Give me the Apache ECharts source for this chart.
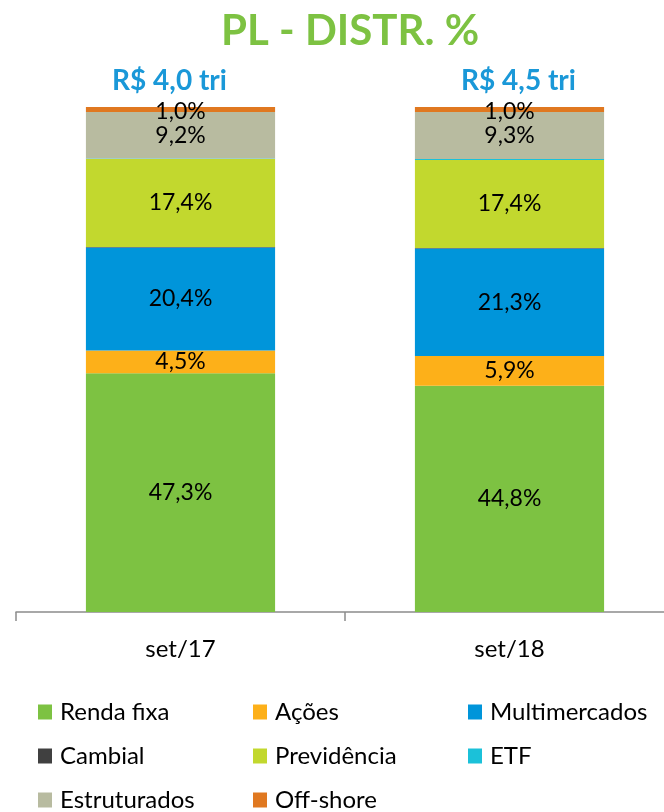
<!DOCTYPE html>
<html>
<head>
<meta charset="utf-8">
<script src="https://cdn.jsdelivr.net/npm/echarts@6/dist/echarts.min.js"></script>
<style>
  html,body{margin:0;padding:0;background:#fff;overflow:hidden;}
  #box{width:674px;height:812px;}
</style>
</head>
<body>
<div id="box"></div>
<script>
// dados do grafico
var categorias = ['set/17', 'set/18'];
var totais = ['R$ 4,0 tri', 'R$ 4,5 tri'];
var rendaFixa = [47.3, 44.8];
var acoes = [4.5, 5.9];
var multimercados = [20.4, 21.3];
var cambial = [0.1, 0.1];
var previdencia = [17.4, 17.4];
var etf = [0.1, 0.2];
var estruturados = [9.2, 9.3];
var offShore = [1.0, 1.0];

var fonte = 'Lato, "Open Sans", sans-serif';

function pct(p){
  return p.value.toFixed(1).replace('.', ',') + '%';
}

function serie(nome, dados, cor, mostrar, offset){
  return {
    name: nome,
    type: 'bar',
    stack: 'pl',
    barWidth: '57.5%',
    itemStyle: {color: cor},
    label: {
      show: mostrar,
      position: 'inside',
      offset: offset || [0, 0],
      color: '#000',
      fontFamily: fonte,
      fontSize: 23,
      formatter: pct
    },
    data: dados
  };
}

var myChart = echarts.init(document.getElementById('box'));
var legendaBase = {
  orient: 'vertical',
  top: 700,
  padding: 0,
  icon: 'rect',
  itemWidth: 14,
  itemHeight: 15,
  itemGap: 20,
  textStyle: {fontFamily: fonte, fontSize: 24, lineHeight: 24, color: '#000', padding: [0, 0, 0, 3]}
};
var option = {
  backgroundColor: '#fff',
  animation: false,
  title: {
    text: 'PL - DISTR. %',
    left: 216,
    top: 5,
    textStyle: {color: '#7DC242', fontFamily: fonte, fontWeight: 'bold', fontSize: 42}
  },
  legend: [
    Object.assign({}, legendaBase, {left: 38, data: ['Renda fixa', 'Cambial', 'Estruturados']}),
    Object.assign({}, legendaBase, {left: 253, data: ['Ações', 'Previdência', 'Off-shore']}),
    Object.assign({}, legendaBase, {left: 468, data: ['Multimercados', 'ETF']})
  ],
  grid: {left: 16, right: 0, top: 107, bottom: 200},
  xAxis: {
    type: 'category',
    data: categorias,
    axisLine: {lineStyle: {color: '#8c8c8c', width: 1.5}},
    axisTick: {show: true, length: 9, interval: 0, lineStyle: {color: '#8c8c8c', width: 1.5}},
    axisLabel: {color: '#000', fontFamily: fonte, fontSize: 24, margin: 25}
  },
  yAxis: {type: 'value', min: 0, max: 100, show: false},
  series: [
    serie('Renda fixa', rendaFixa, '#7DC242', true),
    serie('Ações', acoes, '#FDB019', true),
    serie('Multimercados', multimercados, '#0095DA', true),
    serie('Cambial', cambial, '#404040', false),
    serie('Previdência', previdencia, '#C2D82E', true),
    serie('ETF', etf, '#1BC1D9', false),
    serie('Estruturados', estruturados, '#B8BBA0', true),
    serie('Off-shore', offShore, '#E07820', true, [0, 2]),
    {
      name: 'total',
      type: 'bar',
      stack: 'pl',
      barWidth: '57.5%',
      itemStyle: {color: 'rgba(0,0,0,0)'},
      label: {
        show: true,
        position: 'top',
        distance: 12,
        color: '#1A98D8',
        fontFamily: fonte,
        fontWeight: 'bold',
        fontSize: 28,
        formatter: function(p){ return totais[p.dataIndex]; }
      },
      data: [
        {value: 0, label: {offset: [-11, 0]}},
        {value: 0, label: {offset: [9, 0]}}
      ]
    }
  ]
};
myChart.setOption(option);
</script>
</body>
</html>
